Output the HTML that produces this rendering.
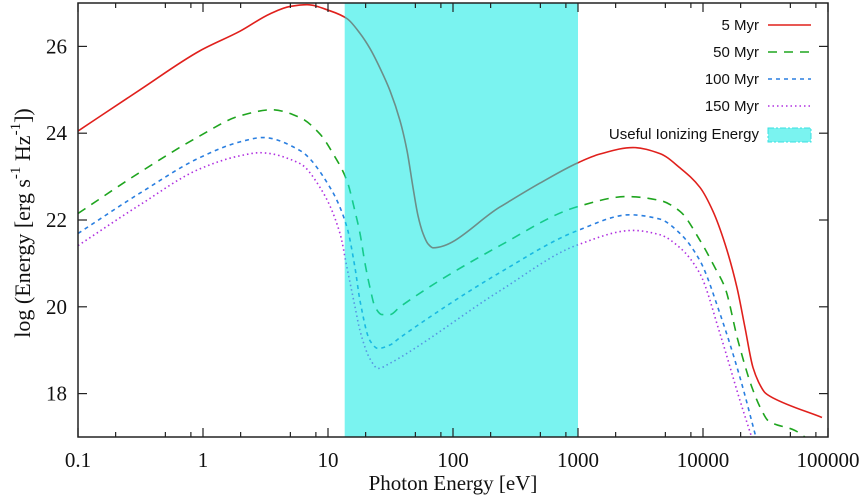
<!DOCTYPE html>
<html><head><meta charset="utf-8">
<style>
html,body{margin:0;padding:0;background:#fff;}
svg{display:block;}
.tk{font-family:"Liberation Serif",serif;font-size:21px;fill:#111;}
.lg{font-family:"Liberation Sans",sans-serif;font-size:15px;fill:#111;}
</style></head>
<body>
<svg id="chart" width="867" height="495" xmlns="http://www.w3.org/2000/svg">
<g id="marks"></g>
<g id="axes"></g>
</svg>
<script>
// ---- data ----
const bandRange = [13.6, 1000];
const xTicks = [0.1, 1, 10, 100, 1000, 10000, 100000];
const xTickLabels = ["0.1","1","10","100","1000","10000","100000"];
const yTicks = [18, 20, 22, 24, 26];
const yTickLabels = ["18","20","22","24","26"];
const seriesNames = ["5 Myr","50 Myr","100 Myr","150 Myr"];
const logE5 = [-1,-0.504,-0.024,0.296,0.536,0.696,0.832,1.016,1.152,1.256,1.336,1.416,1.496,1.576,1.632,1.68,1.72,1.76,1.8,1.84,2.376,2.696,3.0,3.176,3.44,3.656,3.816,3.976,4.08,4.176,4.272,4.336,4.4,4.456,4.496,4.56,4.952];
const val5  = [24.05,25.0,25.9,26.35,26.75,26.92,26.96,26.82,26.64,26.3,25.95,25.5,24.98,24.29,23.6,22.75,22.1,21.69,21.45,21.36,22.3,22.85,23.32,23.52,23.67,23.53,23.2,22.75,22.2,21.45,20.44,19.52,18.6,18.2,18.02,17.9,17.45];
const logE50 = [-1,-0.504,-0.024,0.296,0.552,0.776,0.936,1.04,1.152,1.216,1.256,1.296,1.336,1.376,1.432,1.496,1.576,2.376,3.0,3.392,3.656,3.816,3.976,4.096,4.176,4.28,4.392,4.472,4.52,4.736,4.84];
const val50  = [22.15,23.1,23.94,24.4,24.54,24.36,23.98,23.53,22.9,22.2,21.69,21.0,20.44,20.0,19.82,19.82,20.0,21.41,22.31,22.54,22.45,22.2,21.53,20.9,20.44,19.22,18.14,17.6,17.38,17.15,16.95];
const logE100 = [-1,-0.504,-0.024,0.296,0.48,0.776,1.016,1.152,1.216,1.256,1.336,1.4,1.496,1.576,2.376,3.0,3.416,3.656,3.816,3.976,4.136,4.296,4.432];
const val100  = [21.69,22.62,23.44,23.8,23.9,23.6,22.75,21.83,20.9,20.14,19.22,19.04,19.12,19.29,20.79,21.76,22.12,22.02,21.69,21.06,19.84,18.37,16.9];
const logE150 = [-1,-0.504,-0.024,0.296,0.456,0.776,0.936,1.096,1.152,1.216,1.256,1.336,1.4,1.496,1.576,2.376,3.0,3.44,3.656,3.816,3.976,4.136,4.296,4.4];
const val150  = [21.41,22.35,23.18,23.48,23.55,23.3,22.75,21.69,20.9,20.0,19.45,18.8,18.58,18.7,18.83,20.37,21.43,21.76,21.66,21.36,20.76,19.38,17.84,16.9];

// ---- scales ----
const L=78,R=828,T=3,B=437;
const xMinLog=-1,xMaxLog=5,yMin=17,yMax=27;
function xs(lg){return L+(lg-xMinLog)/(xMaxLog-xMinLog)*(R-L);}
function xE(e){return xs(Math.log10(e));}
function ys(v){return B-(v-yMin)/(yMax-yMin)*(B-T);}
const NS="http://www.w3.org/2000/svg";
function mk(tag,attrs,parent){const e=document.createElementNS(NS,tag);for(const k in attrs)e.setAttribute(k,attrs[k]);parent.appendChild(e);return e;}
const marks=document.getElementById('marks'), axes=document.getElementById('axes');

const defs=mk('defs',{},marks);
const cp=mk('clipPath',{id:'pa'},defs);
mk('rect',{x:L,y:T,width:R-L,height:B-T},cp);

// monotone cubic (Fritsch-Carlson)
function pathFor(lx,vy){
  const X=lx.map(xs), Y=vy.map(ys), n=X.length;
  const d=[],m=new Array(n);
  for(let i=0;i<n-1;i++) d.push((Y[i+1]-Y[i])/(X[i+1]-X[i]));
  m[0]=d[0]; m[n-1]=d[n-2];
  for(let i=1;i<n-1;i++){
    if(d[i-1]*d[i]<=0) m[i]=0;
    else { const w1=2*(X[i+1]-X[i])+(X[i]-X[i-1]), w2=(X[i+1]-X[i])+2*(X[i]-X[i-1]);
      m[i]=(w1+w2)/(w1/d[i-1]+w2/d[i]); }
  }
  let s=`M${X[0]},${Y[0]}`;
  for(let i=0;i<n-1;i++){
    const h=(X[i+1]-X[i])/3;
    s+=` C${X[i]+h},${Y[i]+m[i]*h} ${X[i+1]-h},${Y[i+1]-m[i+1]*h} ${X[i+1]},${Y[i+1]}`;
  }
  return s;
}
const styles=[
 {c:'#e0201c',dash:'',w:1.6},
 {c:'#1fa51f',dash:'9,7',w:1.6},
 {c:'#2a7fe0',dash:'4,4',w:1.6},
 {c:'#b030e0',dash:'1.5,3',w:1.6}];
const lxs=[logE5,logE50,logE100,logE150], vys=[val5,val50,val100,val150];
const g=mk('g',{'clip-path':'url(#pa)'},marks);
for(let i=0;i<4;i++){
  const el=mk('path',{d:pathFor(lxs[i],vys[i]),fill:'none',stroke:styles[i].c,'stroke-width':styles[i].w,'stroke-dasharray':styles[i].dash},g);
  
  
}
const band=mk('rect',{x:xE(bandRange[0]),y:T,width:xE(bandRange[1])-xE(bandRange[0]),height:B-T,fill:'rgba(13,233,228,0.55)'},marks);



const fr=mk('rect',{x:L,y:T,width:R-L,height:B-T,fill:'none',stroke:'#222','stroke-width':1.5},axes);


for(let d=-1;d<=5;d++){
  const x=xs(d);
  mk('line',{x1:x,y1:B,x2:x,y2:B-9,stroke:'#222','stroke-width':1.2},axes);
  mk('line',{x1:x,y1:T,x2:x,y2:T+9,stroke:'#222','stroke-width':1.2},axes);
  if(d<5)[2,5,8].forEach(m=>{const xm=xs(d+Math.log10(m));
    mk('line',{x1:xm,y1:B,x2:xm,y2:B-5,stroke:'#222','stroke-width':1.2},axes);
    mk('line',{x1:xm,y1:T,x2:xm,y2:T+5,stroke:'#222','stroke-width':1.2},axes);});
}
xTicks.forEach((v,i)=>{
  const t=mk('text',{x:xE(v),y:467,'text-anchor':'middle',class:'tk'},axes);t.textContent=xTickLabels[i];
  
  
});
yTicks.forEach((v,i)=>{
  const y=ys(v);
  mk('line',{x1:L,y1:y,x2:L+9,y2:y,stroke:'#222','stroke-width':1.2},axes);
  mk('line',{x1:R,y1:y,x2:R-9,y2:y,stroke:'#222','stroke-width':1.2},axes);
  const t=mk('text',{x:L-11,y:y+7,'text-anchor':'end',class:'tk'},axes);t.textContent=yTickLabels[i];
  
  
});
</script>
<svg style="position:absolute;left:0;top:0" width="867" height="495" xmlns="http://www.w3.org/2000/svg">
<text x="453" y="490" text-anchor="middle" class="tk">Photon Energy [eV]</text>
<text transform="translate(30,223) rotate(-90)" text-anchor="middle" class="tk" style="font-size:22px">log (Energy [erg s<tspan dy="-10" font-size="15">-1</tspan><tspan dy="10"> Hz</tspan><tspan dy="-10" font-size="15">-1</tspan><tspan dy="10">])</tspan></text>
<g>
<g><text x="759" y="30" text-anchor="end" class="lg">5 Myr</text><line x1="768" y1="25" x2="811" y2="25" stroke="#e0201c" stroke-width="1.6"/></g>
<g><text x="759" y="57" text-anchor="end" class="lg">50 Myr</text><line x1="768" y1="52" x2="811" y2="52" stroke="#1fa51f" stroke-width="1.6" stroke-dasharray="9,7"/></g>
<g><text x="759" y="84" text-anchor="end" class="lg">100 Myr</text><line x1="768" y1="79" x2="811" y2="79" stroke="#2a7fe0" stroke-width="1.6" stroke-dasharray="4,4"/></g>
<g><text x="759" y="111" text-anchor="end" class="lg">150 Myr</text><line x1="768" y1="106" x2="811" y2="106" stroke="#b030e0" stroke-width="1.6" stroke-dasharray="1.5,3"/></g>
<g><text x="759" y="139" text-anchor="end" class="lg">Useful Ionizing Energy</text><rect x="768" y="128" width="43" height="14" fill="#7af3f0" stroke="#3adfe0" stroke-width="1" stroke-dasharray="6,2,2,2"/></g>
</g>
</svg>
</body></html>
